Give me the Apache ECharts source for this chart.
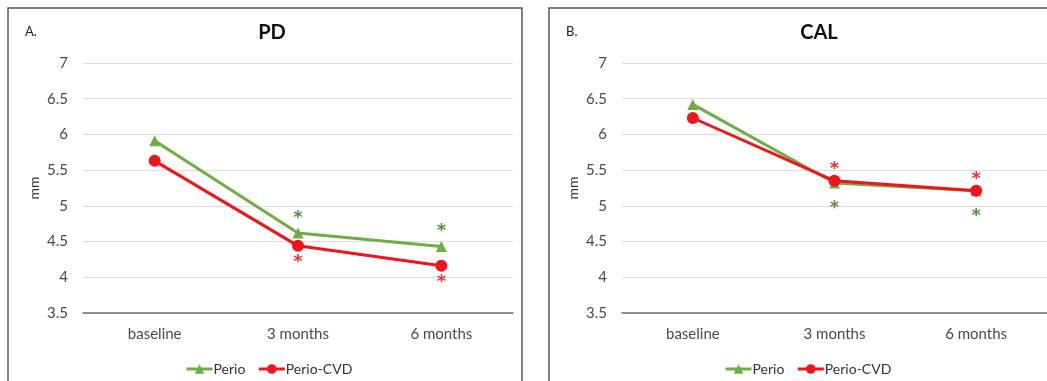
<!DOCTYPE html>
<html>
<head>
<meta charset="utf-8">
<script src="https://cdn.jsdelivr.net/npm/echarts@6/dist/echarts.min.js"></script>
<style>
html, body { margin: 0; padding: 0; background: #fff; }
#main { width: 1047px; height: 381px; }
</style>
</head>
<body>
<div id="main"></div>
<script>
var categories = ['baseline', '3 months', '6 months'];
var yTicks = { min: 3.5, max: 7, step: 0.5 };

// PD panel
var pdPerio = [5.91, 4.62, 4.43];
var pdPerioCvd = [5.63, 4.44, 4.16];
// CAL panel
var calPerio = [6.42, 5.32, 5.21];
var calPerioCvd = [6.23, 5.35, 5.21];

// significance stars (* vs baseline)
var pdPerioSig = [false, true, true];
var pdPerioCvdSig = [false, true, true];
var calPerioSig = [false, true, true];
var calPerioCvdSig = [false, true, true];

var GREEN = '#70ad47', RED = '#f0141c';
var FONT = 'Lato, "Open Sans", sans-serif';

/*星号标注：dy 为相对于数据点的偏移*/
function withStars(values, sig, color, dy) {
    return values.map(function (v, i) {
        if (!sig[i]) return v;
        return {
            value: v,
            label: {
                show: true,
                formatter: '*',
                position: 'inside',
                offset: [0, dy],
                color: color,
                fontSize: 18,
                fontWeight: 'bold',
                fontFamily: 'DejaVu Sans'
            }
        };
    });
}

function makeGrid(left) {
    return { left: left, width: 430, top: 63, height: 250 };
}

function xAxis(idx) {
    return {
        type: 'category',
        gridIndex: idx,
        data: categories,
        boundaryGap: true,
        axisTick: { show: false },
        axisLine: { lineStyle: { color: '#6f6f6f', width: 1.5 } },
        axisLabel: { color: '#4a4a4a', fontSize: 15, fontFamily: FONT, margin: 14 }
    };
}

function yAxis(idx) {
    return {
        type: 'value',
        gridIndex: idx,
        min: yTicks.min,
        max: yTicks.max,
        interval: yTicks.step,
        name: 'mm',
        nameLocation: 'middle',
        nameGap: 42,
        nameTextStyle: { color: '#333', fontSize: 14, fontFamily: FONT },
        axisLine: { show: false },
        axisTick: { show: false },
        splitLine: { lineStyle: { color: '#dedede', width: 1 } },
        axisLabel: { color: '#4a4a4a', fontSize: 15, fontFamily: FONT, margin: 15 }
    };
}

function lineSeries(name, idx, data, color, symbol, size) {
    return {
        name: name,
        type: 'line',
        xAxisIndex: idx,
        yAxisIndex: idx,
        data: data,
        symbol: symbol,
        symbolSize: size,
        showAllSymbol: true,
        lineStyle: { color: color, width: 3 },
        itemStyle: { color: color },
        emphasis: { disabled: true }
    };
}

function legend(left) {
    return {
        left: left,
        top: 357,
        itemWidth: 26,
        itemHeight: 12,
        itemGap: 12,
        lineStyle: { width: 3 },
        textStyle: { color: '#333', fontSize: 14, fontFamily: FONT, padding: [0, 0, 0, -4] },
        data: ['Perio', 'Perio-CVD']
    };
}

var myChart = echarts.init(document.getElementById('main'));

var option = {
    animation: false,
    backgroundColor: '#fff',
    title: [
        { text: 'PD', left: 267, top: 18, textAlign: 'center',
          textStyle: { fontSize: 20, fontWeight: 'bold', color: '#111', fontFamily: FONT } },
        { text: 'CAL', left: 814, top: 18, textAlign: 'center',
          textStyle: { fontSize: 20, fontWeight: 'bold', color: '#111', fontFamily: FONT } }
    ],
    legend: [legend(180), legend(719)],
    grid: [makeGrid(83), makeGrid(622)],
    xAxis: [xAxis(0), xAxis(1)],
    yAxis: [yAxis(0), yAxis(1)],
    series: [
        lineSeries('Perio', 0, withStars(pdPerio, pdPerioSig, '#5a8f42', -15), GREEN, 'triangle', 11),
        lineSeries('Perio-CVD', 0, withStars(pdPerioCvd, pdPerioCvdSig, '#e8323a', 16), RED, 'circle', 12),
        lineSeries('Perio', 1, withStars(calPerio, calPerioSig, '#5a8f42', 25), GREEN, 'triangle', 11),
        lineSeries('Perio-CVD', 1, withStars(calPerioCvd, calPerioCvdSig, '#e8323a', -12), RED, 'circle', 12)
    ],
    graphic: [
        { type: 'rect', shape: { x: 8, y: 8, width: 514, height: 400 },
          style: { fill: 'none', stroke: '#5a5a5a', lineWidth: 1.5 }, silent: true },
        { type: 'rect', shape: { x: 549, y: 8, width: 514, height: 400 },
          style: { fill: 'none', stroke: '#5a5a5a', lineWidth: 1.5 }, silent: true },
        { type: 'text', x: 25, y: 25,
          style: { text: 'A.', fontSize: 13, fill: '#222', fontFamily: FONT } },
        { type: 'text', x: 566, y: 25,
          style: { text: 'B.', fontSize: 13, fill: '#222', fontFamily: FONT } }
    ]
};

myChart.setOption(option);
window.onresize = myChart.resize;
</script>
</body>
</html>
